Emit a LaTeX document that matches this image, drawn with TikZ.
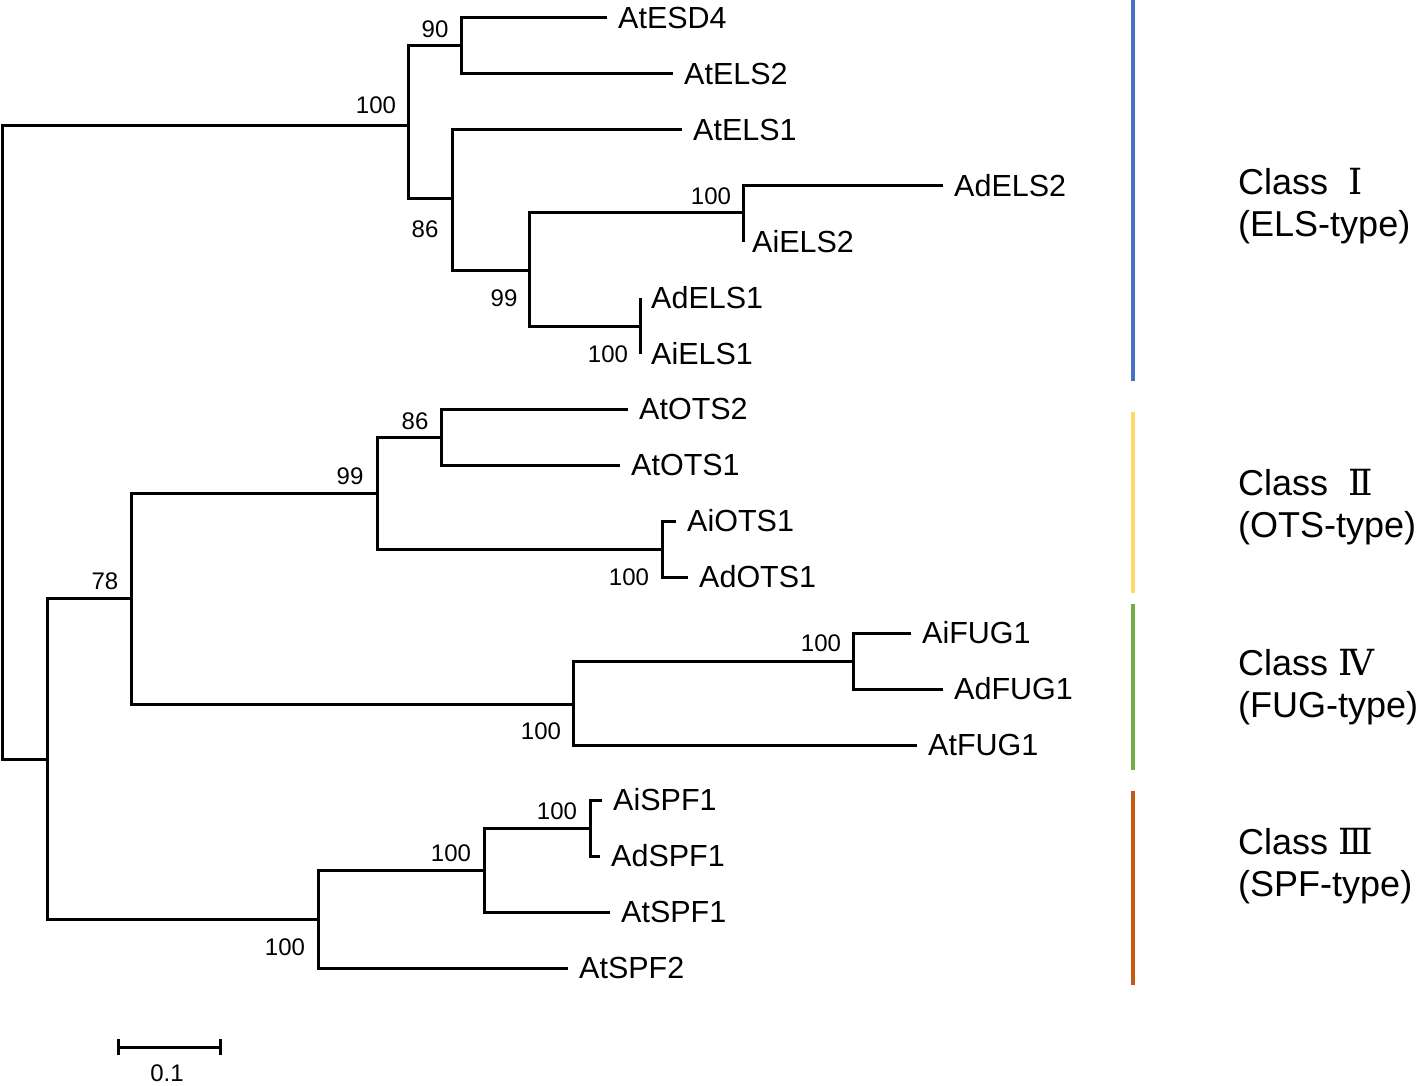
\documentclass[tikz,border=0pt]{standalone}
\usepackage{fontspec}
\setmainfont{Liberation Sans}
\newfontfamily\rom{DejaVu Serif}
\definecolor{cblue}{RGB}{68,114,196}
\definecolor{cyellow}{RGB}{255,217,102}
\definecolor{cgreen}{RGB}{112,173,71}
\definecolor{corange}{RGB}{197,90,17}
\begin{document}
\begin{tikzpicture}[x=1pt,y=-1pt,
  br/.style={line width=3pt,black},
  leaf/.style={anchor=west,inner xsep=11pt,inner ysep=0pt,font=\fontsize{30.5}{30}\selectfont},
  boot/.style={inner sep=0pt,font=\fontsize{24}{24}\selectfont},
  cls/.style={anchor=west,inner sep=0pt,align=left,font=\fontsize{36}{42}\selectfont},
  bar/.style={line width=4pt}]
\useasboundingbox (0,0) rectangle (1419,1086);
% internal nodes
\coordinate (r) at (2,442);
\coordinate (nA) at (408,126);
\coordinate (n90) at (461,46);
\coordinate (n86) at (452,199);
\coordinate (n99) at (529,270);
\coordinate (nE2) at (743,213);
\coordinate (nE1) at (640,326);
\coordinate (n78) at (47,759);
\coordinate (nB) at (131,598);
\coordinate (nO99) at (377,493);
\coordinate (nO86) at (441,437);
\coordinate (nO1) at (662,549);
\coordinate (nF) at (573,704);
\coordinate (nF2) at (853,661);
\coordinate (nS) at (318,919);
\coordinate (nS2) at (484,870);
\coordinate (nS3) at (590,828);
% leaves
\node[leaf] (AtESD4) at (607,18) {AtESD4};
\node[leaf] (AtELS2) at (673,74) {AtELS2};
\node[leaf] (AtELS1) at (682,130) {AtELS1};
\node[leaf] (AdELS2) at (943,186) {AdELS2};
\node[leaf,inner xsep=9pt] (AiELS2) at (743,242) {AiELS2};
\node[leaf] (AdELS1) at (640,298) {AdELS1};
\node[leaf] (AiELS1) at (640,354) {AiELS1};
\node[leaf] (AtOTS2) at (628,409) {AtOTS2};
\node[leaf] (AtOTS1) at (620,465) {AtOTS1};
\node[leaf] (AiOTS1) at (676,521) {AiOTS1};
\node[leaf] (AdOTS1) at (688,577) {AdOTS1};
\node[leaf] (AiFUG1) at (911,633) {AiFUG1};
\node[leaf] (AdFUG1) at (943,689) {AdFUG1};
\node[leaf] (AtFUG1) at (917,745) {AtFUG1};
\node[leaf] (AiSPF1) at (602,800) {AiSPF1};
\node[leaf] (AdSPF1) at (600,856) {AdSPF1};
\node[leaf] (AtSPF1) at (610,912) {AtSPF1};
\node[leaf] (AtSPF2) at (568,968) {AtSPF2};
% branches
\draw[br] (r) |- (nA);
\draw[br] (r) |- (n78);
\draw[br] (nA) |- (n90);
\draw[br] (nA) |- (n86);
\draw[br] (n90) |- (AtESD4.west);
\draw[br] (n90) |- (AtELS2.west);
\draw[br] (n86) |- (AtELS1.west);
\draw[br] (n86) |- (n99);
\draw[br] (n99) |- (nE2);
\draw[br] (n99) |- (nE1);
\draw[br] (nE2) |- (AdELS2.west);
\draw[br] (nE2) |- (AiELS2.west);
\draw[br] (nE1) |- (AdELS1.west);
\draw[br] (nE1) |- (AiELS1.west);
\draw[br] (n78) |- (nB);
\draw[br] (n78) |- (nS);
\draw[br] (nB) |- (nO99);
\draw[br] (nB) |- (nF);
\draw[br] (nO99) |- (nO86);
\draw[br] (nO99) |- (nO1);
\draw[br] (nO86) |- (AtOTS2.west);
\draw[br] (nO86) |- (AtOTS1.west);
\draw[br] (nO1) |- (AiOTS1.west);
\draw[br] (nO1) |- (AdOTS1.west);
\draw[br] (nF) |- (nF2);
\draw[br] (nF) |- (AtFUG1.west);
\draw[br] (nF2) |- (AiFUG1.west);
\draw[br] (nF2) |- (AdFUG1.west);
\draw[br] (nS) |- (nS2);
\draw[br] (nS) |- (AtSPF2.west);
\draw[br] (nS2) |- (nS3);
\draw[br] (nS2) |- (AtSPF1.west);
\draw[br] (nS3) |- (AiSPF1.west);
\draw[br] (nS3) |- (AdSPF1.west);
% bootstrap values
\node[boot] (b1) at (435,29) {90};
\node[boot] (b2) at (376,105) {100};
\node[boot] (b3) at (425,229) {86};
\node[boot] (b4) at (504,298) {99};
\node[boot] (b5) at (711,196) {100};
\node[boot] (b6) at (608,354) {100};
\node[boot] (b7) at (415,421) {86};
\node[boot] (b8) at (350,476) {99};
\node[boot] (b9) at (629,577) {100};
\node[boot] (b10) at (105,581) {78};
\node[boot] (b11) at (821,643) {100};
\node[boot] (b12) at (541,731) {100};
\node[boot] (b13) at (557,811) {100};
\node[boot] (b14) at (451,853) {100};
\node[boot] (b15) at (285,947) {100};
% class bars
\coordinate (c1a) at (1133,0); \coordinate (c1b) at (1133,381);
\coordinate (c2a) at (1133,412); \coordinate (c2b) at (1133,593);
\coordinate (c3a) at (1133,604); \coordinate (c3b) at (1133,770);
\coordinate (c4a) at (1133,791); \coordinate (c4b) at (1133,985);
\draw[bar,cblue] (c1a) -- (c1b);
\draw[bar,cyellow] (c2a) -- (c2b);
\draw[bar,cgreen] (c3a) -- (c3b);
\draw[bar,corange] (c4a) -- (c4b);
% class labels
\node[cls] (L1) at (1238,206) {Class\ \ {\rom Ⅰ}\\(ELS-type)};
\node[cls] (L2) at (1238,507) {Class\ \ {\rom Ⅱ}\\(OTS-type)};
\node[cls] (L3) at (1238,687) {Class {\rom Ⅳ}\\(FUG-type)};
\node[cls] (L4) at (1238,866) {Class {\rom Ⅲ}\\(SPF-type)};
% scale bar
\coordinate (s1) at (118,1047);
\coordinate (s2) at (220,1047);
\draw[line width=3pt] (s1) -- (s2);
\draw[line width=3pt] ([yshift=-8pt]s1) -- ([yshift=8pt]s1);
\draw[line width=3pt] ([yshift=-8pt]s2) -- ([yshift=8pt]s2);
\node[boot] (sl) at (167,1073) {0.1};
\end{tikzpicture}
\end{document}
